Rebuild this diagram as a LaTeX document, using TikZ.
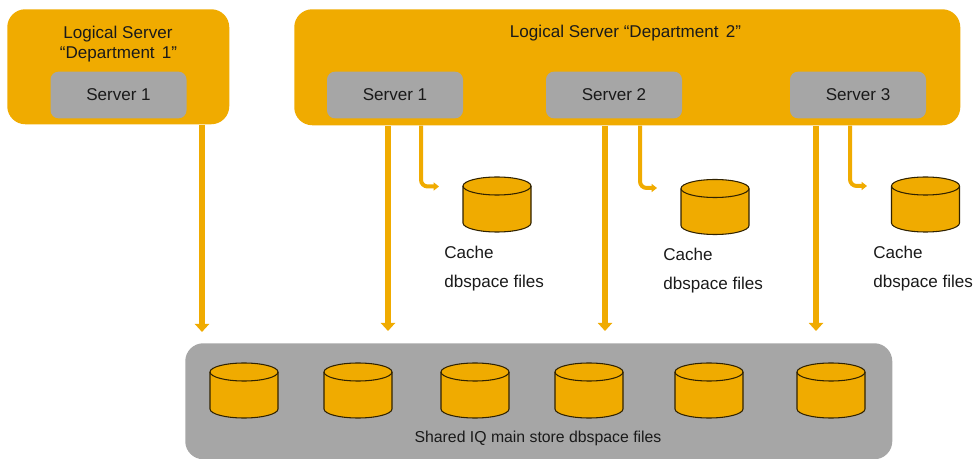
\documentclass[tikz,border=0pt]{standalone}
\usepackage{fontspec}
\setmainfont{Liberation Sans}
\usetikzlibrary{arrows.meta}
\definecolor{sapgold}{HTML}{F0AB00}
\definecolor{sapgray}{HTML}{A6A6A6}
\definecolor{labeltxt}{HTML}{1A1A1A}
\tikzset{
	logical/.style={fill=sapgold,rounded corners=13.5pt,anchor=north west,inner sep=0pt},
	server/.style={fill=sapgray,rounded corners=6pt,minimum width=102pt,minimum height=35pt,inner sep=0pt,text=labeltxt,font=\fontsize{12.8}{14}\selectfont},
	disk/.pic={
		\draw[draw=black!80!sapgold,line width=0.8pt,fill=sapgold] (-34,-18.5) -- (-34,18.5) arc[start angle=180,end angle=0,x radius=34,y radius=9] -- (34,-18.5) arc[start angle=0,end angle=-180,x radius=34,y radius=9] -- cycle;
		\draw[draw=black!80!sapgold,line width=0.8pt] (-34,-18.5) arc[start angle=180,end angle=0,x radius=34,y radius=9];
	},
	caption/.style={text=labeltxt,font=\fontsize{12.8}{14}\selectfont,inner sep=0pt},
	mainlink/.style={draw=sapgold,line width=5pt,-{Triangle[width=10.5pt,length=6pt]}},
	cachelink/.style={draw=sapgold,line width=3pt,rounded corners=5pt,-{Triangle[width=6pt,length=4pt]}},
}
\begin{document}
\begin{tikzpicture}[x=0.75pt,y=-0.75pt]
	\useasboundingbox (0,0) rectangle (974,459);
	% logical servers
	\node[logical,minimum width=166.5pt,minimum height=86.25pt] (dept_a) at (7,9) {};
	\node[logical,minimum width=499.5pt,minimum height=87pt] (dept_b) at (294,9) {};
	\node[caption] (dept_a_name) at (118,34) {Logical Server};
	\node[caption] (dept_a_sub) at (118.5,54) {“Department\hspace{0.42em}1”};
	\node[caption] (dept_b_name) at (625.5,33) {Logical Server “Department\hspace{0.42em}2”};
	\node[server] (srv_a) at (118.5,95) {Server 1};
	\node[server] (srv_b) at (395,95) {Server 1};
	\node[server] (srv_c) at (614,95) {Server 2};
	\node[server] (srv_d) at (858,95) {Server 3};
	% shared store
	\node[logical,fill=sapgray,minimum width=530.25pt,minimum height=87pt] (store) at (185,343) {};
	\foreach \name/\xpos in {st_a/244,st_b/358,st_c/475,st_d/589,st_e/709,st_f/831}
		\pic (\name) at (\xpos,390.5) {disk};
	\node[caption,font=\fontsize{11.85}{13}\selectfont] (store_txt) at (538,438) {Shared IQ main store dbspace files};
	% cache disks
	\pic (cache_a) at (497,204.5) {disk};
	\pic (cache_b) at (715,207) {disk};
	\pic (cache_c) at (925.5,204.5) {disk};
	\node[caption,anchor=west] (cache_a_t) at (444,252) {Cache};
	\node[caption,anchor=west] (cache_a_f) at (444,283) {dbspace files};
	\node[caption,anchor=west] (cache_b_t) at (663,254) {Cache};
	\node[caption,anchor=west] (cache_b_f) at (663,285) {dbspace files};
	\node[caption,anchor=west] (cache_c_t) at (873,252) {Cache};
	\node[caption,anchor=west] (cache_c_f) at (873,283) {dbspace files};
	% free ends of the arrows
	\coordinate (end_a) at (202,332);
	\coordinate (end_b) at (388,331);
	\coordinate (end_c) at (605,331);
	\coordinate (end_d) at (816,331);
	\coordinate (tip_b) at (439,186.5);
	\coordinate (tip_c) at (657,188);
	\coordinate (tip_d) at (867,186);
	\coordinate (drop_b) at (421,186.5);
	\coordinate (drop_c) at (640,188);
	\coordinate (drop_d) at (850,186);
	% links
	\draw[mainlink] (dept_a.south -| end_a) -- (end_a);
	\draw[mainlink] (dept_b.south -| end_b) -- (end_b);
	\draw[mainlink] (dept_b.south -| end_c) -- (end_c);
	\draw[mainlink] (dept_b.south -| end_d) -- (end_d);
	\draw[cachelink] (dept_b.south -| drop_b) -- (drop_b) -- (tip_b);
	\draw[cachelink] (dept_b.south -| drop_c) -- (drop_c) -- (tip_c);
	\draw[cachelink] (dept_b.south -| drop_d) -- (drop_d) -- (tip_d);
\end{tikzpicture}
\end{document}
